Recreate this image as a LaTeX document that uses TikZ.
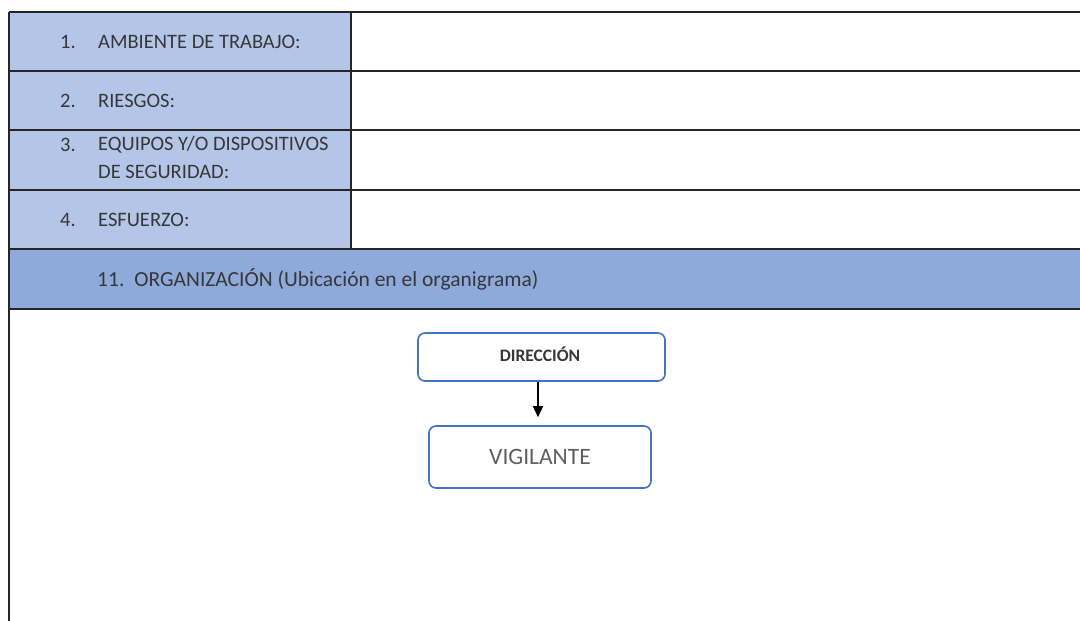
\documentclass[tikz,border=0pt]{standalone}
\usepackage{fontspec}
\setmainfont{Carlito}
\usetikzlibrary{arrows.meta}
\definecolor{cellblue}{RGB}{180,198,231}
\definecolor{headblue}{RGB}{142,170,219}
\definecolor{boxblue}{RGB}{68,114,196}
\definecolor{ink}{RGB}{55,55,55}
\definecolor{softink}{RGB}{95,95,95}
\begin{document}
\begin{tikzpicture}[x=1pt,y=-1pt,
  rule/.style={line width=1.6pt,black!85},
  numlbl/.style={anchor=west,inner sep=0pt,text=ink,font=\fontsize{20.5}{28}\selectfont},
  celllbl/.style={anchor=west,inner sep=0pt,text=ink,align=left,font=\fontsize{20.5}{28}\selectfont},
  orgbox/.style={draw=boxblue,line width=1.6pt,rounded corners=7pt,fill=white,inner sep=0pt},
  link/.style={line width=1.5pt,black,-{Triangle[length=11pt,width=10pt]}}]
\useasboundingbox (0,0) rectangle (1080,621);
% shaded cells
\fill[cellblue] (9,12) rectangle (351,249);
\fill[headblue] (9,249) rectangle (1095,309);
% table rules
\foreach \y in {12,71,130,190,249,309}
  \draw[rule] (9,\y) -- (1095,\y);
\draw[rule] (9,12) -- (9,640);
\draw[rule] (351,12) -- (351,249);
% row labels
\node[numlbl] (n1) at (60,41.5) {1.};
\node[celllbl] (t1) at (98,41.5) {AMBIENTE DE TRABAJO:};
\node[numlbl] (n2) at (60,100.5) {2.};
\node[celllbl] (t2) at (98,100.5) {RIESGOS:};
\node[numlbl] (n3) at (60,145) {3.};
\node[celllbl,anchor=north west] (t3) at (98,136) {EQUIPOS Y/O DISPOSITIVOS\\DE SEGURIDAD:};
\node[numlbl] (n4) at (60,219.5) {4.};
\node[celllbl] (t4) at (98,219.5) {ESFUERZO:};
\node[celllbl,font=\fontsize{21.5}{28}\selectfont] (t11) at (97,279) {11.\hspace{10pt}ORGANIZACIÓN (Ubicación en el organigrama)};
% organisation chart
\node[orgbox,minimum width=247pt,minimum height=48pt] (dir) at (541.5,357) {};
\node[text=ink,font=\bfseries\fontsize{17.5}{20}\selectfont] (dirlbl) at (540,354) {DIRECCIÓN};
\node[orgbox,minimum width=222pt,minimum height=62pt,text=softink,font=\fontsize{23.5}{28}\selectfont] (vig) at (540,457) {VIGILANTE};
\coordinate (tip) at ([yshift=8pt]vig.north -| 538,0);
\draw[link] (dir.south -| 538,0) -- (tip);
\end{tikzpicture}
\end{document}
